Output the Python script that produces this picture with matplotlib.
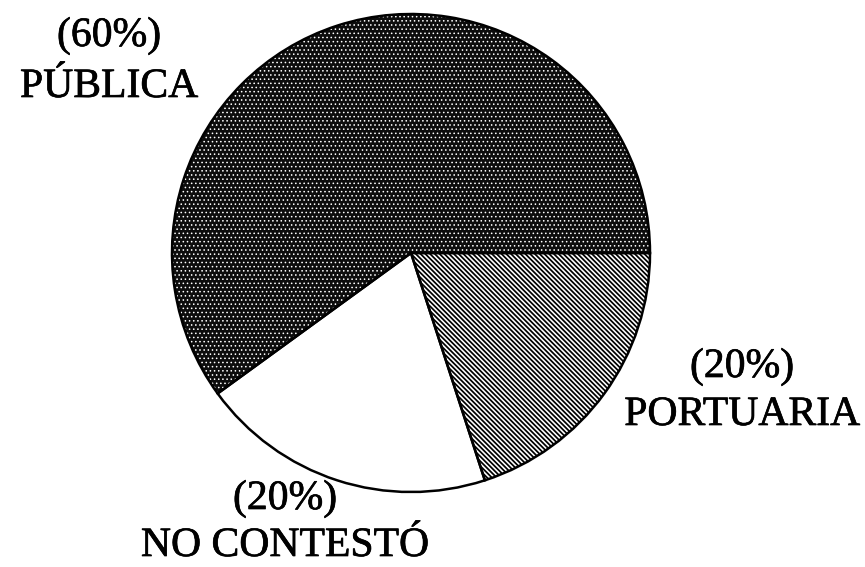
import matplotlib
matplotlib.use("Agg")
import matplotlib.pyplot as plt
import matplotlib.patheffects as pe

labels = ["PÚBLICA", "NO CONTESTÓ", "PORTUARIA"]
values = [60, 20, 20]
pct_labels = ["(60%)", "(20%)", "(20%)"]

W, H = 865, 567
fig = plt.figure(figsize=(W / 100, H / 100), dpi=100)
ax = fig.add_axes([0, 0, 1, 1])

cx, cy, r = 411, H - 253, 239

plt.rcParams["hatch.linewidth"] = 1.2
faces = ["#0d0d0d", "white", "white"]
hcols = ["white", "white", "black"]
hatches = ["....", None, "\\" * 7]
hlw = [0.6, 1.0, 1.25]

wedges, _ = ax.pie(values, startangle=0, counterclock=True,
                   center=(cx, cy), radius=r, frame=True)
for w, fc, hc, h, lw in zip(wedges, faces, hcols, hatches, hlw):
    w.set_facecolor(fc)
    w.set_edgecolor(hc)
    w.set_linewidth(0)
    if h:
        w.set_hatch(h)
    if hasattr(w, "set_hatch_linewidth"):
        w.set_hatch_linewidth(lw)
    else:
        w._hatch_linewidth = lw

ax.pie(values, startangle=0, counterclock=True,
       center=(cx, cy), radius=r, frame=True,
       wedgeprops=dict(fill=False, edgecolor="black", linewidth=1.8))
ax.set_xlim(0, W)
ax.set_ylim(0, H)
ax.set_aspect("equal")
ax.axis("off")

font = dict(family="Liberation Serif", fontsize=30, color="black", ha="center", va="baseline",
            path_effects=[pe.withStroke(linewidth=0.5, foreground="black")])
pos = {
    0: (109, 46, 97),
    1: (285, 509, 556),
    2: (742, 377, 425),
}
for i in range(3):
    x, y1, y2 = pos[i]
    ax.text(x, H - y1, pct_labels[i], **font)
    ax.text(x, H - y2, labels[i], **font)

fig.savefig("out.png", dpi=100)
